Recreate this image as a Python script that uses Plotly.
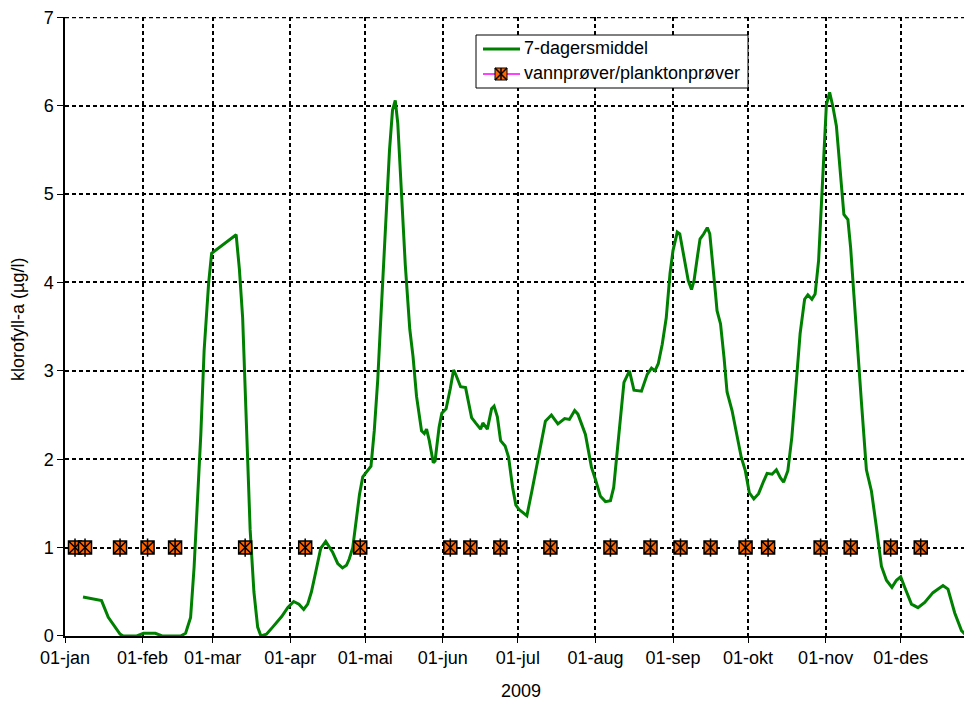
import plotly.graph_objects as go
import pandas as pd

BASE = pd.Timestamp("2009-01-01")

# 7-day running mean, day-of-year offsets from 01-jan-2009 and values (µg/l)
line_days = [7.2, 11.9, 14.6, 17.3, 22.0, 23.3, 28.7, 31.4, 36.1, 38.8, 46.2, 48.2, 50.2, 51.6,
             52.9, 54.3, 55.6, 57.4, 58.6, 68.4, 69.7, 71.0, 72.5, 74.0, 75.5, 77.0, 78.3,
             80.5, 83.0, 86.6, 89.0, 91.4, 93.5, 95.4, 97.0, 98.5, 100.1, 102.2, 104.2, 106.9,
             109.0, 110.9, 112.5, 113.6, 115.0, 116.3, 117.7, 119.0, 120.5, 122.3, 123.6, 125.0,
             126.0, 127.3, 128.5, 129.7, 130.9, 132.0, 133.0, 134.5, 136.0, 137.8, 139.1, 140.5,
             142.5, 143.6, 144.5, 145.6, 147.2, 147.9, 149.5, 150.6, 152.3, 154.0, 155.3, 156.3,
             158.1, 160.1, 162.5, 164.1, 166.1, 167.0, 168.8, 170.5, 171.5, 172.8, 174.1, 175.9,
             177.3, 178.9, 180.2, 181.5, 184.6, 186.6, 189.3, 190.6, 192.0, 194.4, 197.0, 199.7,
             201.6, 203.7, 205.0, 208.0, 210.4, 212.0, 214.0, 216.0, 218.0, 219.3, 220.7, 223.4,
             225.6, 227.4, 230.4, 232.7, 234.4, 235.8, 237.1, 238.7, 240.3, 241.8, 243.0, 244.7,
             245.7, 247.4, 249.1, 250.4, 251.4, 252.7, 253.8, 255.3, 256.7, 257.7, 258.7, 260.0,
             260.6, 262.0, 263.4, 264.6, 266.6, 268.6, 270.3, 271.9, 273.5, 275.3, 277.2, 279.2,
             280.6, 282.6, 284.3, 285.9, 287.2, 288.9, 290.5, 292.1, 293.8, 295.6, 296.9, 298.5,
             299.8, 301.2, 302.3, 303.3, 304.3, 305.6, 306.9, 308.3, 309.6, 311.3, 312.9, 314.0,
             315.3, 316.7, 318.3, 320.3, 322.3, 324.3, 326.3, 328.3, 330.5, 332.3, 334.0, 335.6,
             338.3, 340.9, 343.6, 346.9, 350.9, 352.9, 355.6, 358.3, 360.5]
line_vals = [0.44, 0.42, 0.40, 0.21, 0.02, 0.00, 0.00, 0.03, 0.03, 0.00, 0.00, 0.03, 0.21, 0.78,
             1.53, 2.29, 3.23, 3.99, 4.33, 4.54, 4.15, 3.60, 2.40, 1.20, 0.50, 0.10, 0.00,
             0.02, 0.10, 0.22, 0.32, 0.39, 0.36, 0.30, 0.36, 0.50, 0.71, 0.99, 1.07, 0.95,
             0.82, 0.77, 0.80, 0.87, 1.00, 1.27, 1.60, 1.80, 1.85, 1.92, 2.32, 2.90,
             3.47, 4.20, 4.93, 5.50, 5.95, 6.06, 5.80, 5.00, 4.20, 3.47, 3.16, 2.71,
             2.32, 2.29, 2.34, 2.21, 1.96, 1.98, 2.36, 2.52, 2.57, 2.80, 3.01, 2.95,
             2.82, 2.81, 2.47, 2.41, 2.34, 2.41, 2.34, 2.57, 2.60, 2.48, 2.21, 2.15,
             2.02, 1.68, 1.48, 1.43, 1.36, 1.64, 2.02, 2.21, 2.43, 2.50, 2.40, 2.46,
             2.45, 2.55, 2.51, 2.28, 1.91, 1.77, 1.58, 1.52, 1.53, 1.68, 2.09, 2.87,
             3.00, 2.78, 2.77, 2.96, 3.03, 3.00, 3.08, 3.30, 3.60, 4.10, 4.36, 4.57,
             4.55, 4.28, 4.02, 3.92, 4.02, 4.28, 4.49, 4.55, 4.62, 4.55, 4.28, 3.87,
             3.68, 3.53, 3.15, 2.76, 2.55, 2.25, 2.02, 1.87, 1.62, 1.55, 1.61, 1.75,
             1.84, 1.83, 1.88, 1.79, 1.74, 1.87, 2.25, 2.81, 3.42, 3.81, 3.86, 3.81,
             3.87, 4.25, 4.88, 5.48, 6.01, 6.15, 5.99, 5.77, 5.32, 4.77, 4.71, 4.39,
             3.86, 3.26, 2.65, 1.88, 1.64, 1.23, 0.79, 0.63, 0.55, 0.63, 0.67, 0.55,
             0.36, 0.32, 0.38, 0.49, 0.57, 0.53, 0.26, 0.06, 0.00]

# Water / plankton sampling dates (day offsets) plotted at y = 1
sample_days = [4, 8, 22, 33, 44, 72, 96, 118, 154, 162, 174, 194, 218, 234, 246, 258,
               272, 281, 302, 314, 330, 342]
sample_vals = [1, 1, 1, 1, 1, 1, 1, 1, 1, 1, 1, 1, 1, 1, 1, 1, 1, 1, 1, 1, 1, 1]

month_ticks = ["2009-01-01", "2009-02-01", "2009-03-01", "2009-04-01", "2009-05-01",
               "2009-06-01", "2009-07-01", "2009-08-01", "2009-09-01", "2009-10-01",
               "2009-11-01", "2009-12-01"]
month_labels = ["01-jan", "01-feb", "01-mar", "01-apr", "01-mai", "01-jun", "01-jul",
                "01-aug", "01-sep", "01-okt", "01-nov", "01-des"]
y_ticks = [0, 1, 2, 3, 4, 5, 6, 7]
series_names = ["7-dagersmiddel", "vannprøver/planktonprøver"]

line_x = [BASE + pd.Timedelta(days=d) for d in line_days]
sample_x = [BASE + pd.Timedelta(days=d) for d in sample_days]

FONT = "Arial, Liberation Sans, sans-serif"
GREEN, ORANGE, MAGENTA = "#008000", "#FF6600", "#FF00FF"
GRID_DASH = "4px,3px"

# plot area in page pixels (the page body adds an 8px offset to the figure)
PL, PR, PT, PB = 65, 972, 17, 636


def px(x):
    return (x - PL) / (PR - PL)


def py(y):
    return (PB - y) / (PB - PT)


fig = go.Figure()
fig.add_trace(go.Scatter(x=line_x, y=line_vals, mode="lines", name=series_names[0],
                         showlegend=False, line=dict(color=GREEN, width=3)))
fig.add_trace(go.Scatter(x=sample_x, y=sample_vals, mode="markers", name=series_names[1],
                         showlegend=False,
                         marker=dict(symbol="square-x", size=13, color=ORANGE,
                                     line=dict(color="black", width=1.5))))
fig.add_trace(go.Scatter(x=sample_x, y=sample_vals, mode="markers", showlegend=False,
                         hoverinfo="skip",
                         marker=dict(symbol="line-ns-open", size=13, color="black",
                                     line=dict(color="black", width=1.5))))

shapes = [
    # top gridline at y = 7 (plotly skips the gridline on the plot edge)
    dict(type="line", xref="paper", yref="y", x0=0, x1=1, y0=y_ticks[-1], y1=y_ticks[-1],
         layer="below", line=dict(color="black", width=2, dash=GRID_DASH)),
    # hand-drawn legend box (matches the reference's compact spacing)
    dict(type="rect", xref="paper", yref="paper", x0=px(476), x1=px(748), y0=py(35), y1=py(88),
         fillcolor="white", line=dict(color="black", width=1)),
    dict(type="line", xref="paper", yref="paper", x0=px(483), x1=px(520), y0=py(49), y1=py(49),
         line=dict(color=GREEN, width=3)),
    dict(type="line", xref="paper", yref="paper", x0=px(483), x1=px(520), y0=py(74), y1=py(74),
         line=dict(color=MAGENTA, width=1.5)),
    dict(type="rect", xref="paper", yref="paper", x0=px(495), x1=px(507), y0=py(68), y1=py(80),
         fillcolor=ORANGE, line=dict(color="black", width=1)),
    dict(type="line", xref="paper", yref="paper", x0=px(495), x1=px(507), y0=py(68), y1=py(80),
         line=dict(color="black", width=1.5)),
    dict(type="line", xref="paper", yref="paper", x0=px(495), x1=px(507), y0=py(80), y1=py(68),
         line=dict(color="black", width=1.5)),
    dict(type="line", xref="paper", yref="paper", x0=px(501), x1=px(501), y0=py(68), y1=py(80),
         line=dict(color="black", width=1.5)),
]

annotations = [
    dict(text=series_names[0], xref="paper", yref="paper", x=px(522), y=py(48),
         xanchor="left", yanchor="middle", showarrow=False, font=dict(size=18)),
    dict(text=series_names[1], xref="paper", yref="paper", x=px(522), y=py(73),
         xanchor="left", yanchor="middle", showarrow=False, font=dict(size=18)),
    dict(text="klorofyll-a (µg/l)", xref="paper", yref="paper",
         x=px(18), y=py(320), xanchor="center", yanchor="middle",
         textangle=-90, showarrow=False, font=dict(size=18)),
    dict(text="2009", xref="paper", yref="paper",
         x=px(521), y=py(691), xanchor="center", yanchor="middle",
         showarrow=False, font=dict(size=18)),
]

fig.update_layout(
    width=964, height=696,
    margin=dict(l=57, r=0, t=9, b=68),
    paper_bgcolor="white", plot_bgcolor="white",
    font=dict(family=FONT, size=18, color="black"),
    showlegend=False,
    xaxis=dict(
        type="date", automargin=False,
        range=[BASE, BASE + pd.Timedelta(days=362.5)],
        tickvals=month_ticks, ticktext=month_labels,
        ticks="outside", ticklen=5, tickcolor="black",
        showline=True, linecolor="black", linewidth=1.5,
        showgrid=True, gridcolor="black", gridwidth=2, griddash=GRID_DASH,
        zeroline=False, ticklabeloverflow="allow",
    ),
    yaxis=dict(
        automargin=False,
        range=[-0.0005, 7.003], tickvals=y_ticks,
        ticks="outside", ticklen=6, tickcolor="black",
        showline=True, linecolor="black", linewidth=1.5,
        showgrid=True, gridcolor="black", gridwidth=2, griddash=GRID_DASH,
        zeroline=False, ticklabeloverflow="allow",
    ),
    shapes=shapes,
    annotations=annotations,
)

fig.write_html("out.html")
